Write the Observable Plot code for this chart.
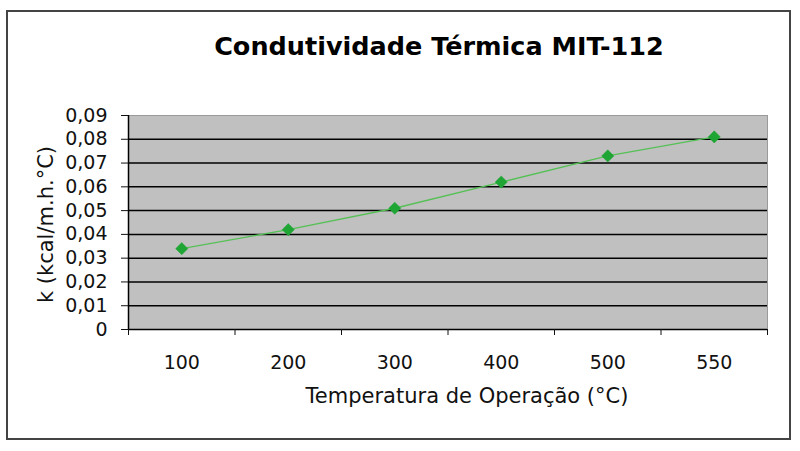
<!DOCTYPE html>
<html><head><meta charset="utf-8">
<script src="https://cdn.jsdelivr.net/npm/d3@7"></script>
<script src="https://cdn.jsdelivr.net/npm/@observablehq/plot@0.6"></script>
<style>
body{margin:0;background:#fff}
#chart{position:relative;width:800px;height:451px}
#chart svg{position:absolute;left:0;top:0}
#border{position:absolute;left:6px;top:10px;width:781px;height:426px;border:2px solid #444;pointer-events:none}
</style>
</head><body><div id="chart"></div>
<script>
const title = "Condutividade Térmica MIT-112";
const xTitle = "Temperatura de Operação (°C)";
const yTitle = "k (kcal/m.h.°C)";
const categories = ["100", "200", "300", "400", "500", "550"];
const kValues = [0.034, 0.042, 0.051, 0.062, 0.073, 0.081];
const yTicks = [0, 0.01, 0.02, 0.03, 0.04, 0.05, 0.06, 0.07, 0.08, 0.09];

const data = categories.map((c, i) => ({i, c, k: kValues[i]}));
const idx = categories.map((c, i) => i);
const boundaries = [-0.5, ...idx.map(i => i + 0.5)];
const fmt = d => d === 0 ? "0" : d.toFixed(2).replace(".", ",");

const chart = Plot.plot({
  width: 800,
  height: 451,
  marginLeft: 128,
  marginRight: 33,
  marginTop: 115,
  marginBottom: 122,
  style: {fontFamily: "DejaVu Sans", fontSize: "19px", background: "transparent", color: "#111"},
  x: {domain: [-0.5, categories.length - 0.5], axis: null},
  y: {domain: [0, 0.09], axis: null},
  marks: [
    Plot.frame({fill: "#c0c0c0", stroke: "#9a9a9a"}),
    Plot.ruleY(yTicks.filter(t => t > 0 && t < 0.09), {stroke: "#000", strokeWidth: 1.5}),
    Plot.ruleY([0], {stroke: "#000", strokeWidth: 1.5}),
    Plot.ruleX([-0.5], {stroke: "#000", strokeWidth: 1.5}),
    Plot.axisY({ticks: yTicks, tickFormat: fmt, tickSize: 7, tickPadding: 14, label: null, fontSize: 19, color: "#111"}),
    Plot.axisX({ticks: boundaries, tickFormat: () => "", tickSize: 6, label: null, color: "#111"}),
    Plot.axisX({ticks: idx, tickFormat: i => categories[i], tickSize: 0, tickPadding: 26, label: null, fontSize: 19, color: "#111"}),
    Plot.line(data, {x: "i", y: "k", stroke: "#55c055", strokeWidth: 1.4}),
    Plot.dot(data, {x: "i", y: "k", symbol: "diamond2", r: 5.5, fill: "#1fa534", stroke: "#1fa534", strokeWidth: 0.5}),
    Plot.text([title], {text: d => d, frameAnchor: "top", dx: -9, dy: -69, lineAnchor: "middle", fontSize: 25.5, fontWeight: "bold", fill: "#000"}),
    Plot.text([xTitle], {text: d => d, frameAnchor: "bottom", dx: 19, dy: 67, lineAnchor: "middle", fontSize: 21, fill: "#111"}),
    Plot.text([yTitle], {text: d => d, frameAnchor: "left", dx: -82, dy: 2, rotate: -90, textAnchor: "middle", lineAnchor: "middle", fontSize: 21, fill: "#111"})
  ]
});
const root = document.getElementById("chart");
root.appendChild(chart);
const border = document.createElement("div");
border.id = "border";
root.appendChild(border);
</script>
</body></html>
